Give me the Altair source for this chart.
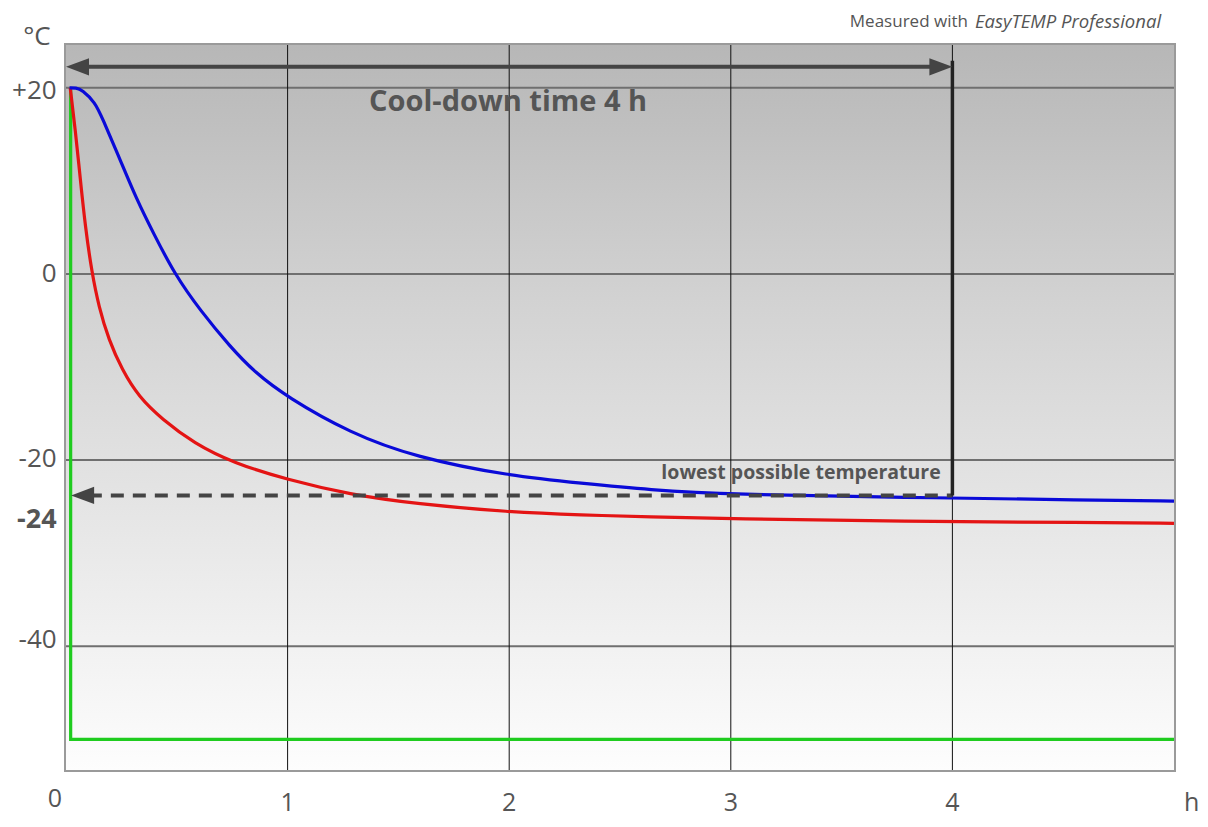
import altair as alt
import pandas as pd

# ---------------- data ----------------
X_DOMAIN = [0, 5]
Y_DOMAIN = [-53.3, 24.6]

red_t = [0.019, 0.042, 0.065, 0.087, 0.117, 0.148, 0.193, 0.253, 0.328, 0.433, 0.578,
         0.755, 0.996, 1.282, 1.578, 2.0, 2.33, 2.63, 3.0, 3.77, 4.63, 5.0]
red_v = [20.0, 15.5, 10.1, 5.1, 0.1, -3.5, -7.1, -10.3, -13.2, -15.6, -18.2,
         -20.3, -22.1, -23.7, -24.7, -25.6, -25.9, -26.1, -26.3, -26.6, -26.7, -26.8]

blue_t = [0.016, 0.045, 0.072, 0.132, 0.161, 0.244, 0.319, 0.394, 0.492, 0.605, 0.740, 0.853,
          0.996, 1.282, 1.578, 2.0, 2.33, 2.63, 3.0, 3.77, 4.63, 5.0]
blue_v = [20.0, 20.0, 19.8, 18.4, 16.9, 12.3, 8.0, 4.4, -0.1, -3.9, -7.8, -10.6,
          -13.2, -17.1, -19.7, -21.7, -22.5, -23.2, -23.7, -24.0, -24.3, -24.4]

green_t = [0.021, 0.021, 5.0]
green_v = [20.0, -50.0, -50.0]

h_grid = [20, 0, -20, -40]
v_grid = [1, 2, 3, 4]

lowest_temp = -23.8        # dashed arrow level
lowest_start = 0.023       # dashed arrow tip (h)
cooldown_h = 4             # cool-down time
arrow_level = 22.26        # top double arrow level
vline_top = 22.9

ytick_text = ["+20", "0", "-20", "-40"]
ytick_pos = [19.7, 0.0, -19.9, -39.3]
xtick_text = ["0", "1", "2", "3", "4", "h"]
xtick_x = [-0.05, 1, 2, 3, 4, 5.08]
xtick_y = [-56.4, -56.8, -56.8, -56.8, -56.8, -56.8]

# ---------------- frames ----------------
curves = pd.concat([
    pd.DataFrame({"t": red_t, "v": red_v, "s": "red", "i": range(len(red_t))}),
    pd.DataFrame({"t": blue_t, "v": blue_v, "s": "blue", "i": range(len(blue_t))}),
])
green = pd.DataFrame({"t": green_t, "v": green_v, "i": range(len(green_t))})

xs = alt.Scale(domain=X_DOMAIN, nice=False, zero=False)
ys = alt.Scale(domain=Y_DOMAIN, nice=False, zero=False)
X = lambda f: alt.X(f, type="quantitative", scale=xs, axis=None)
Y = lambda f: alt.Y(f, type="quantitative", scale=ys, axis=None)

bg = alt.Chart(pd.DataFrame({"x0": [X_DOMAIN[0]], "x1": [X_DOMAIN[1]],
                             "y0": [Y_DOMAIN[0]], "y1": [Y_DOMAIN[1]]})).mark_rect(
    fill=alt.Gradient(gradient="linear", x1=0, y1=0, x2=0, y2=1,
                      stops=[alt.GradientStop(color="#b7b7b7", offset=0),
                             alt.GradientStop(color="#d2d2d2", offset=0.35),
                             alt.GradientStop(color="#fdfdfd", offset=1)])
).encode(x=X("x0"), x2="x1", y=Y("y0"), y2="y1")

hg = alt.Chart(pd.DataFrame({"v": h_grid, "a": X_DOMAIN[0], "b": X_DOMAIN[1]})).mark_rule(
    color="#6f6f6f", strokeWidth=2).encode(x=X("a"), x2="b", y=Y("v"))
vg = alt.Chart(pd.DataFrame({"t": v_grid, "a": Y_DOMAIN[0], "b": Y_DOMAIN[1]})).mark_rule(
    color="#111111", strokeWidth=1).encode(x=X("t"), y=Y("a"), y2="b")

gline = alt.Chart(green).mark_line(strokeWidth=3.2, color="#1fcc1f").encode(
    x=X("t"), y=Y("v"), order="i:Q")

lines = alt.Chart(curves).mark_line(strokeWidth=3.2, interpolate="basis").encode(
    x=X("t"), y=Y("v"),
    color=alt.Color("s:N", scale=alt.Scale(domain=["red", "blue"],
                                           range=["#e41414", "#0a0ad8"]), legend=None),
    detail="s:N", order="i:Q")

dash = alt.Chart(pd.DataFrame({"a": [lowest_start + 0.08], "b": [cooldown_h], "v": [lowest_temp]})).mark_rule(
    color="#444444", strokeWidth=4, strokeDash=[13, 9]).encode(x=X("a"), x2="b", y=Y("v"))

toparrow = alt.Chart(pd.DataFrame({"a": [0.08], "b": [cooldown_h - 0.08], "v": [arrow_level]})).mark_rule(
    color="#444444", strokeWidth=4).encode(x=X("a"), x2="b", y=Y("v"))

vline = alt.Chart(pd.DataFrame({"t": [cooldown_h], "a": [lowest_temp], "b": [vline_top]})).mark_rule(
    color="#222222", strokeWidth=3.5).encode(x=X("t"), y=Y("a"), y2="b")

left_head = "M0,0L2,-0.75L2,0.75Z"
right_head = "M0,0L-2,-0.75L-2,0.75Z"
heads_l = alt.Chart(pd.DataFrame({"t": [0.0, lowest_start], "v": [arrow_level, lowest_temp]})).mark_point(
    shape=left_head, size=530, filled=True, fill="#444444", strokeWidth=0, opacity=1
).encode(x=X("t"), y=Y("v"))
heads_r = alt.Chart(pd.DataFrame({"t": [cooldown_h], "v": [arrow_level]})).mark_point(
    shape=right_head, size=530, filled=True, fill="#444444", strokeWidth=0, opacity=1
).encode(x=X("t"), y=Y("v"))

FONT = "Open Sans"
GREY = "#555555"

def txt(df, **kw):
    return alt.Chart(df).mark_text(font=FONT, color=GREY, baseline="middle", **kw).encode(
        x=X("x"), y=Y("y"), text="l:N")

ytl = txt(pd.DataFrame({"l": ytick_text, "x": -0.042, "y": ytick_pos}), align="right", fontSize=26)
m24 = txt(pd.DataFrame({"l": ["-24"], "x": [-0.042], "y": [-26.45]}), align="right", fontSize=27,
          fontWeight="bold")
unit = txt(pd.DataFrame({"l": ["°C"], "x": [-0.131], "y": [25.5]}), align="center", fontSize=26)
xtl = txt(pd.DataFrame({"l": xtick_text, "x": xtick_x, "y": xtick_y}), align="center", fontSize=25)
cool = txt(pd.DataFrame({"l": ["Cool-down time 4 h"], "x": [1.995], "y": [18.5]}), align="center",
           fontSize=29, fontWeight="bold")
low = txt(pd.DataFrame({"l": ["lowest possible temperature"], "x": [3.317], "y": [-21.4]}), align="center",
          fontSize=19.5, fontWeight="bold")
sub1 = txt(pd.DataFrame({"l": ["Measured with"], "x": [4.07], "y": [27.1]}), align="right", fontSize=17)
sub2 = txt(pd.DataFrame({"l": ["EasyTEMP Professional"], "x": [4.102], "y": [27.1]}), align="left",
           fontSize=18.5, fontStyle="italic")

chart = alt.layer(bg, hg, vg, gline, lines, dash, toparrow, vline, heads_l, heads_r,
                  ytl, m24, unit, xtl, cool, low, sub1, sub2).properties(
    width=1108, height=725,
    autosize=alt.AutoSizeParams(type="none"),
    padding={"left": 58, "top": 37, "right": 26, "bottom": 49},
    background="white",
).configure_view(stroke="#9a9a9a", strokeWidth=4)

chart.save("out.html", embed_options={"renderer": "svg", "actions": False})
